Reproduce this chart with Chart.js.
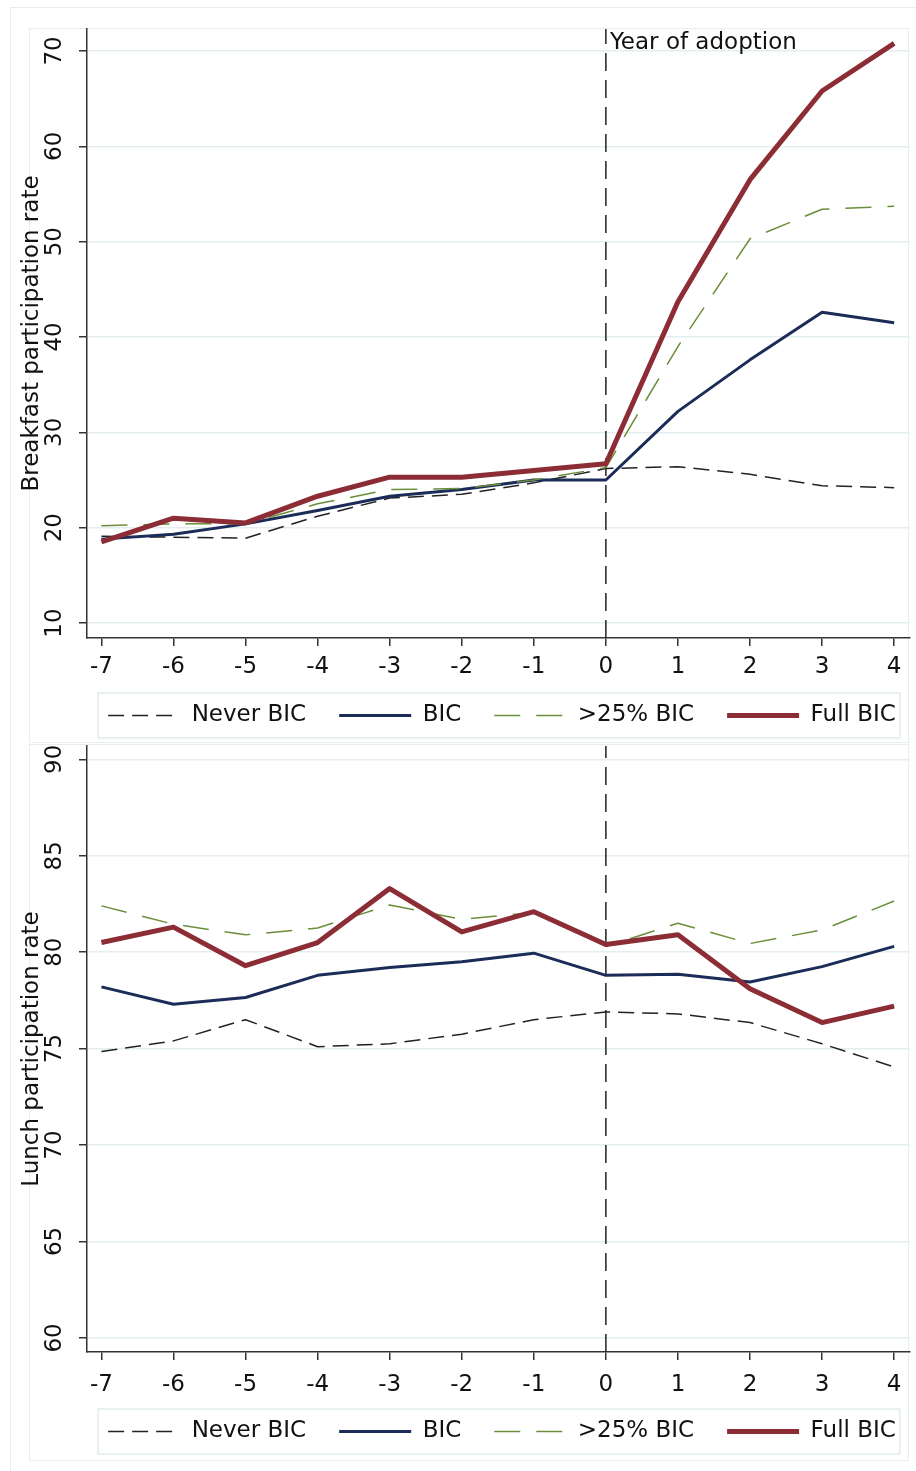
<!DOCTYPE html>
<html lang="en">
<head>
<meta charset="UTF-8">
<title>Breakfast and lunch participation</title>
<script src="https://cdn.jsdelivr.net/npm/chart.js@4.4.0/dist/chart.umd.min.js"></script>
<style>
  body { margin: 0; background: #fff; width: 916px; height: 1471px; overflow: hidden; position: relative; }
  canvas { position: absolute; left: 0; }
  .frame { position: absolute; border: 1.5px solid #e6eef0; box-sizing: border-box; }
</style>
</head>
<body>
<div class="frame" style="left:10px;top:7px;width:930px;height:1490px"></div>
<div class="frame" style="left:29px;top:28px;width:880px;height:715px"></div>
<div class="frame" style="left:29px;top:744px;width:880px;height:717px"></div>
<canvas id="breakfast" width="916" height="745" style="top:0"></canvas>
<canvas id="lunch" width="916" height="736" style="top:735px"></canvas>
<script>
// years relative to adoption
const years = [-7, -6, -5, -4, -3, -2, -1, 0, 1, 2, 3, 4];
const xTicks = [-7, -6, -5, -4, -3, -2, -1, 0, 1, 2, 3, 4];

// breakfast panel
const breakfastTicks = [10, 20, 30, 40, 50, 60, 70];
const breakfastNever = [19.1, 19.0, 18.9, 21.2, 23.1, 23.5, 24.7, 26.2, 26.4, 25.6, 24.4, 24.2];
const breakfastBIC   = [18.8, 19.3, 20.4, 21.8, 23.3, 24.0, 25.0, 25.0, 32.2, 37.6, 42.6, 41.5];
const breakfast25    = [20.2, 20.4, 20.4, 22.5, 24.0, 24.1, 25.0, 26.3, 39.0, 50.3, 53.4, 53.7];
const breakfastFull  = [18.5, 21.0, 20.5, 23.3, 25.3, 25.3, 26.0, 26.7, 43.7, 56.5, 65.8, 70.8];

// lunch panel
const lunchTicks = [60, 65, 70, 75, 80, 85, 90];
const lunchNever = [74.85, 75.4, 76.5, 75.1, 75.25, 75.75, 76.5, 76.9, 76.8, 76.35, 75.25, 74.05];
const lunchBIC   = [78.2, 77.3, 77.65, 78.8, 79.2, 79.5, 79.95, 78.8, 78.85, 78.45, 79.25, 80.3];
const lunch25    = [82.4, 81.45, 80.9, 81.25, 82.45, 81.7, 82.05, 80.3, 81.5, 80.45, 81.15, 82.65];
const lunchFull  = [80.5, 81.3, 79.3, 80.5, 83.3, 81.05, 82.1, 80.4, 80.9, 78.1, 76.35, 77.2];

const FONT = 'DejaVu Sans';
const TEXT = '#111';
const AXIS = '#333';

function pts(vals) {
  return vals.map((v, i) => ({ x: years[i], y: v }));
}

// move the legend into place and draw the box round it
const legendFrame = {
  id: 'legendFrame',
  afterLayout(chart, args, opts) {
    const lg = chart.legend;
    lg.left += opts.dx; lg.right += opts.dx;
    lg.top += opts.dy; lg.bottom += opts.dy;
  },
  afterDraw(chart) {
    const hb = chart.legend.legendHitBoxes;
    if (!hb || !hb.length) return;
    const last = hb[hb.length - 1];
    const cy = hb[0].top + hb[0].height / 2;
    const ctx = chart.ctx;
    ctx.save();
    ctx.strokeStyle = '#e2ecee';
    ctx.lineWidth = 1.5;
    ctx.strokeRect(hb[0].left - 10, cy - 22.5, last.left + last.width + 14 - hb[0].left, 45);
    ctx.restore();
  }
};

const adoptionLabel = {
  id: 'adoptionLabel',
  afterDatasetsDraw(chart) {
    const ctx = chart.ctx;
    ctx.save();
    ctx.font = '23px "' + FONT + '"';
    ctx.fillStyle = TEXT;
    ctx.textBaseline = 'alphabetic';
    ctx.fillText('Year of adoption', chart.scales.x.getPixelForValue(0) + 4, chart.chartArea.top + 20);
    ctx.restore();
  }
};

function legendLabels(chart) {
  const items = Chart.defaults.plugins.legend.labels.generateLabels(chart);
  items.forEach(it => {
    const ds = chart.data.datasets[it.datasetIndex];
    it.lineDash = ds.borderDash || [];
    it.lineWidth = ds.borderWidth;
    it.strokeStyle = ds.borderColor;
  });
  return items;
}

function makeChart(id, cfg) {
  const ctx = document.getElementById(id).getContext('2d');
  return new Chart(ctx, {
    type: 'line',
    data: {
      datasets: [
        { label: 'Never BIC', data: pts(cfg.never), borderColor: '#222', borderWidth: 1.5, borderDash: [16, 8], order: 3 },
        { label: 'BIC', data: pts(cfg.bic), borderColor: '#1c2c58', borderWidth: 3, order: 2 },
        { label: '>25% BIC', data: pts(cfg.part), borderColor: '#6b8e3a', borderWidth: 1.5, borderDash: [26, 16], order: 1 },
        { label: 'Full BIC', data: pts(cfg.full), borderColor: '#8c2d36', borderWidth: 5, order: 0 },
        { label: '', data: [{ x: 0, y: cfg.yMin }, { x: 0, y: cfg.yMax }], borderColor: '#222', borderWidth: 1.5, borderDash: [18, 9], order: 4 }
      ]
    },
    options: {
      responsive: false,
      animation: false,
      devicePixelRatio: 1,
      layout: { padding: { left: 0, right: 6, top: cfg.padTop, bottom: 0 } },
      elements: {
        point: { radius: 0, hoverRadius: 0 },
        line: { tension: 0, fill: false, borderJoinStyle: 'round' }
      },
      plugins: {
        legendFrame: { dx: 47, dy: cfg.legendDy },
        legend: {
          position: 'bottom',
          labels: {
            usePointStyle: true,
            pointStyle: 'line',
            pointStyleWidth: 72,
            padding: 33,
            color: TEXT,
            font: { family: FONT, size: 23 },
            generateLabels: legendLabels,
            filter: item => item.text !== '',
            sort: (a, b) => a.datasetIndex - b.datasetIndex
          }
        },
        tooltip: { enabled: false }
      },
      scales: {
        x: {
          type: 'linear',
          min: -7.2,
          max: 4.22,
          afterBuildTicks: axis => { axis.ticks = xTicks.map(v => ({ value: v })); },
          afterFit: axis => { axis.height = cfg.xHeight; axis.paddingLeft = 0; axis.paddingRight = 0; },
          ticks: { color: TEXT, font: { family: FONT, size: 23 }, padding: cfg.xPad, autoSkip: false, maxRotation: 0, callback: v => String(v) },
          grid: { drawOnChartArea: false, tickLength: 8, color: AXIS, lineWidth: 1.5 },
          border: { color: AXIS, width: 1.5 }
        },
        y: {
          min: cfg.yMin,
          max: cfg.yMax,
          afterBuildTicks: axis => { axis.ticks = cfg.ticks.map(v => ({ value: v })); },
          afterFit: axis => { axis.width = 87; axis.paddingTop = 0; axis.paddingBottom = 0; },
          ticks: { color: TEXT, font: { family: FONT, size: 23 }, padding: 9, minRotation: 90, maxRotation: 90, crossAlign: 'center', autoSkip: false, callback: v => String(v) },
          grid: { color: '#e4eeef', lineWidth: 1.5, tickLength: 8, tickColor: AXIS },
          border: { color: AXIS, width: 1.5 },
          title: { display: true, text: cfg.title, color: TEXT, font: { family: FONT, size: 23 }, padding: { top: 18, bottom: 0 } }
        }
      }
    },
    plugins: cfg.extra ? [legendFrame, cfg.extra] : [legendFrame]
  });
}

// legend box is 66px tall; x axis heights put the plot bottoms at 638 and 1352
makeChart('breakfast', {
  never: breakfastNever, bic: breakfastBIC, part: breakfast25, full: breakfastFull,
  ticks: breakfastTicks, yMin: 8.43, yMax: 72.3,
  title: 'Breakfast participation rate',
  padTop: 29, xHeight: 41, xPad: 7, legendDy: -8,
  extra: adoptionLabel
});

makeChart('lunch', {
  never: lunchNever, bic: lunchBIC, part: lunch25, full: lunchFull,
  ticks: lunchTicks, yMin: 59.27, yMax: 90.69,
  title: 'Lunch participation rate',
  padTop: 11, xHeight: 53, xPad: 11, legendDy: -18
});
</script>
</body>
</html>
